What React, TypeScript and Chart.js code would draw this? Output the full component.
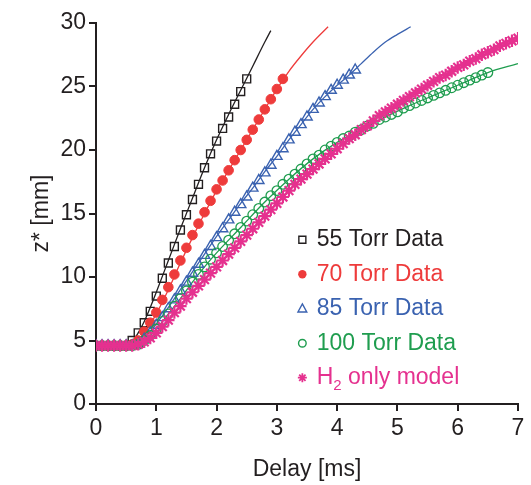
import React, { useEffect, useRef } from "react";
import { Chart, registerables } from "chart.js";
Chart.register(...registerables);

// Delay axis samples (ms)
const delayMs = [
  0.0, 0.1, 0.2, 0.3, 0.4, 0.5, 0.6, 0.7, 0.8, 0.9,
  1.0, 1.1, 1.2, 1.3, 1.4, 1.5, 1.6, 1.7, 1.8, 1.9,
  2.0, 2.1, 2.2, 2.3, 2.4, 2.5, 2.6, 2.7, 2.8, 2.9,
  3.0, 3.1, 3.2, 3.3, 3.4, 3.5, 3.6, 3.7, 3.8, 3.9,
  4.0, 4.1, 4.2, 4.3, 4.4, 4.5, 4.6, 4.7, 4.8, 4.9,
  5.0, 5.1, 5.2, 5.3, 5.4, 5.5, 5.6, 5.7, 5.8, 5.9,
  6.0, 6.1, 6.2, 6.3, 6.4, 6.5, 6.6, 6.7, 6.8, 6.9,
  7.0,
];

// Measured z* (mm), one value per delay sample
const torr55 = [
  4.6, 4.6, 4.6, 4.6, 4.6, 4.6, 5.0, 5.6, 6.4, 7.3,
  8.5, 9.9, 11.1, 12.4, 13.7, 14.9, 16.1, 17.3, 18.6, 19.7,
  20.7, 21.7, 22.6, 23.6, 24.6, 25.6,
];
const torr70 = [
  4.6, 4.6, 4.6, 4.6, 4.6, 4.6, 4.7, 5.0, 5.7, 6.4,
  7.2, 8.2, 9.2, 10.2, 11.3, 12.3, 13.3, 14.2, 15.1, 16.0,
  16.9, 17.6, 18.4, 19.2, 20.0, 20.8, 21.6, 22.4, 23.2, 24.0,
  24.8, 25.6,
];
const torr85 = [
  4.6, 4.6, 4.6, 4.6, 4.6, 4.6, 4.6, 4.7, 5.1, 5.6,
  6.2, 6.8, 7.5, 8.2, 8.9, 9.6, 10.3, 11.0, 11.7, 12.4,
  13.1, 13.8, 14.5, 15.1, 15.7, 16.3, 17.0, 17.6, 18.2, 18.8,
  19.5, 20.1, 20.8, 21.4, 22.0, 22.6, 23.2, 23.7, 24.2, 24.7,
  25.1, 25.5, 25.9, 26.3,
];
const torr100 = [
  4.6, 4.6, 4.6, 4.6, 4.6, 4.6, 4.6, 4.7, 5.0, 5.4,
  5.9, 6.5, 7.1, 7.7, 8.3, 8.9, 9.6, 10.2, 10.8, 11.4,
  11.9, 12.4, 12.9, 13.4, 13.9, 14.4, 14.9, 15.4, 15.9, 16.4,
  16.8, 17.3, 17.7, 18.1, 18.5, 18.9, 19.3, 19.6, 20.0, 20.3,
  20.6, 20.9, 21.1, 21.4, 21.6, 21.9, 22.1, 22.4, 22.6, 22.8,
  23.0, 23.3, 23.5, 23.7, 23.9, 24.1, 24.3, 24.5, 24.7, 24.9,
  25.1, 25.3, 25.5, 25.7, 25.9, 26.1,
];
const h2Model = [
  4.6, 4.6, 4.6, 4.6, 4.6, 4.6, 4.6, 4.7, 4.9, 5.2,
  5.6, 6.1, 6.6, 7.2, 7.7, 8.3, 8.8, 9.3, 9.8, 10.3,
  10.8, 11.3, 11.8, 12.3, 12.8, 13.3, 13.8, 14.3, 14.8, 15.3,
  15.8, 16.3, 16.8, 17.3, 17.7, 18.1, 18.5, 18.9, 19.3, 19.7,
  20.1, 20.5, 20.9, 21.2, 21.6, 21.9, 22.3, 22.7, 23.0, 23.3,
  23.6, 23.9, 24.2, 24.5, 24.8, 25.1, 25.4, 25.7, 25.9, 26.2,
  26.5, 26.7, 27.0, 27.2, 27.5, 27.7, 27.9, 28.2, 28.4, 28.6,
  28.8,
];

// Fitted curves
const fit55X = [0, 0.5, 0.6, 0.7, 0.8, 0.9, 1.0, 1.2, 1.4, 1.6, 1.8, 2.0, 2.2, 2.4, 2.6, 2.8, 2.9];
const fit55Y = [4.6, 4.6, 4.9, 5.6, 6.5, 7.6, 8.8, 11.3, 13.8, 16.2, 18.6, 20.8, 22.8, 24.7, 26.6, 28.5, 29.4];
const fit70X = [0, 0.5, 0.6, 0.7, 0.8, 0.9, 1.0, 1.2, 1.4, 1.6, 1.8, 2.0, 2.2, 2.4, 2.6, 2.8, 3.0, 3.2, 3.4, 3.6, 3.85];
const fit70Y = [4.6, 4.6, 4.7, 5.0, 5.6, 6.3, 7.1, 9.0, 11.1, 13.1, 15.0, 16.8, 18.4, 20.0, 21.6, 23.2, 24.8, 26.2, 27.4, 28.5, 29.7];
const fit85X = [0, 0.6, 0.7, 0.8, 1.0, 1.2, 1.4, 1.6, 1.8, 2.0, 2.2, 2.4, 2.6, 2.8, 3.0, 3.2, 3.4, 3.6, 3.8, 4.0, 4.2, 4.4, 4.6, 4.8, 5.0, 5.22];
const fit85Y = [4.6, 4.6, 4.8, 5.2, 6.3, 7.6, 9.0, 10.4, 11.8, 13.2, 14.5, 15.8, 17.0, 18.3, 19.5, 20.8, 22.0, 23.2, 24.2, 25.1, 25.9, 26.8, 27.7, 28.5, 29.1, 29.7];
const fit100X = [0, 0.6, 0.7, 0.8, 1.0, 1.2, 1.4, 1.6, 1.8, 2.0, 2.4, 2.8, 3.2, 3.6, 4.0, 4.4, 4.8, 5.2, 5.6, 6.0, 6.5, 7.0];
const fit100Y = [4.6, 4.6, 4.7, 5.0, 5.9, 7.1, 8.3, 9.6, 10.8, 11.9, 13.9, 15.9, 17.7, 19.3, 20.6, 21.6, 22.6, 23.5, 24.3, 25.1, 26.1, 26.8];

const xTicks = [0, 1, 2, 3, 4, 5, 6, 7];
const yTicks = [0, 5, 10, 15, 20, 25, 30];

const legendLabels = ["55 Torr Data", "70 Torr Data", "85 Torr Data", "100 Torr Data", "H|2| only model"];

const BLACK = "#231f20";
const RED = "#ee3b3b";
const BLUE = "#3a62b0";
const GREEN = "#1f9d4f";
const MAGENTA = "#e5318f";
const FONT = "'Liberation Sans', Arial, Helvetica, sans-serif";

const pts = (xs: number[], ys: number[]) => ys.map((y, i) => ({ x: xs[i], y }));

function drawMarker(ctx: CanvasRenderingContext2D, kind: string, x: number, y: number, color: string) {
  ctx.save();
  ctx.strokeStyle = color;
  ctx.fillStyle = color;
  ctx.lineWidth = 1.4;
  ctx.beginPath();
  if (kind === "rect") {
    ctx.rect(x - 3.5, y - 3.5, 7, 7);
    ctx.stroke();
  } else if (kind === "dot") {
    ctx.arc(x, y, 4.2, 0, Math.PI * 2);
    ctx.fill();
  } else if (kind === "tri") {
    ctx.moveTo(x, y - 4.8);
    ctx.lineTo(x + 4.4, y + 3.2);
    ctx.lineTo(x - 4.4, y + 3.2);
    ctx.closePath();
    ctx.stroke();
  } else if (kind === "circ") {
    ctx.arc(x, y, 3.8, 0, Math.PI * 2);
    ctx.stroke();
  } else {
    for (let k = 0; k < 4; k++) {
      const a = (k * Math.PI) / 4;
      ctx.moveTo(x - 4.5 * Math.cos(a), y - 4.5 * Math.sin(a));
      ctx.lineTo(x + 4.5 * Math.cos(a), y + 4.5 * Math.sin(a));
    }
    ctx.lineWidth = 1.8;
    ctx.stroke();
  }
  ctx.restore();
}

const legendPlugin = {
  id: "insideLegend",
  afterDraw(chart: any) {
    const { ctx, chartArea } = chart;
    const w = chartArea.right - chartArea.left;
    const h = chartArea.bottom - chartArea.top;
    const mx = chartArea.left + w * 0.489;
    const tx = chartArea.left + w * 0.523;
    const y0 = chartArea.top + h * 0.569;
    const dy = h * 0.0905;
    const kinds = ["rect", "dot", "tri", "circ", "star"];
    const colors = [BLACK, RED, BLUE, GREEN, MAGENTA];
    ctx.save();
    ctx.textBaseline = "middle";
    ctx.textAlign = "left";
    legendLabels.forEach((label, i) => {
      const y = y0 + dy * i;
      drawMarker(ctx, kinds[i], mx, y, colors[i]);
      ctx.fillStyle = colors[i];
      ctx.font = `23px ${FONT}`;
      const parts = label.split("|");
      if (parts.length === 3) {
        ctx.fillText(parts[0], tx, y);
        let x = tx + ctx.measureText(parts[0]).width;
        ctx.font = `15px ${FONT}`;
        ctx.fillText(parts[1], x, y + 8);
        x += ctx.measureText(parts[1]).width;
        ctx.font = `23px ${FONT}`;
        ctx.fillText(parts[2], x, y);
      } else {
        ctx.fillText(label, tx, y);
      }
    });
    ctx.restore();
  },
};

export default function App() {
  const ref = useRef<HTMLCanvasElement>(null);
  useEffect(() => {
    if (!ref.current) return;
    const marker = (color: string, style: string, r: number, fill: boolean, order: number, bw: number) => ({
      showLine: false,
      pointStyle: style,
      pointRadius: r,
      pointBorderColor: color,
      pointBackgroundColor: fill ? color : "rgba(0,0,0,0)",
      pointBorderWidth: bw,
      borderColor: color,
      backgroundColor: color,
      order,
    });
    const line = (color: string, order: number) => ({
      showLine: true,
      pointRadius: 0,
      borderColor: color,
      borderWidth: 1.3,
      cubicInterpolationMode: "monotone" as const,
      order,
    });
    const chart = new Chart(ref.current, {
      type: "scatter",
      data: {
        datasets: [
          { label: "H2 only model", data: pts(delayMs, h2Model), ...marker(MAGENTA, "star", 6.2, false, 0, 2.2) },
          { label: "100 Torr Data", data: pts(delayMs, torr100), ...marker(GREEN, "circle", 4.8, false, 1, 1.3) },
          { label: "85 Torr Data", data: pts(delayMs, torr85), ...marker(BLUE, "triangle", 6, false, 2, 1.4) },
          { label: "70 Torr Data", data: pts(delayMs, torr70), ...marker(RED, "circle", 4.8, true, 3, 1) },
          { label: "55 Torr Data", data: pts(delayMs, torr55), ...marker(BLACK, "rect", 5.6, false, 4, 1.4) },
          { label: "fit100", data: pts(fit100X, fit100Y), ...line(GREEN, 5) },
          { label: "fit85", data: pts(fit85X, fit85Y), ...line(BLUE, 6) },
          { label: "fit70", data: pts(fit70X, fit70Y), ...line(RED, 7) },
          { label: "fit55", data: pts(fit55X, fit55Y), ...line(BLACK, 8) },
        ],
      },
      options: {
        animation: false,
        responsive: false,
        maintainAspectRatio: false,
        layout: { padding: { top: 23, right: 13, left: 0, bottom: 0 } },
        plugins: { legend: { display: false }, tooltip: { enabled: false } },
        scales: {
          x: {
            type: "linear",
            min: 0,
            max: 7,
            afterBuildTicks: (s: any) => { s.ticks = xTicks.map((v) => ({ value: v })); },
            afterFit: (s: any) => { s.height = 81; },
            ticks: { color: BLACK, font: { size: 23, family: FONT }, padding: 4, maxRotation: 0 },
            grid: { drawOnChartArea: false, drawTicks: true, tickLength: 7, color: BLACK, lineWidth: 2 },
            border: { display: true, color: BLACK, width: 2 },
            title: { display: true, text: "Delay [ms]", color: BLACK, font: { size: 23, family: FONT }, padding: { top: 6, bottom: 2 } },
          },
          y: {
            type: "linear",
            min: 0,
            max: 30,
            afterBuildTicks: (s: any) => { s.ticks = yTicks.map((v) => ({ value: v })); },
            afterFit: (s: any) => { s.width = 96; },
            ticks: { color: BLACK, font: { size: 23, family: FONT }, padding: 3 },
            grid: { drawOnChartArea: false, drawTicks: true, tickLength: 7, color: BLACK, lineWidth: 2 },
            border: { display: true, color: BLACK, width: 2 },
            title: { display: true, text: "z* [mm]", color: BLACK, font: { size: 23, family: FONT }, padding: { top: 28, bottom: 0 } },
          },
        },
      },
      plugins: [legendPlugin],
    });
    return () => chart.destroy();
  }, []);
  return (
    <div style={{ position: "absolute", left: 0, top: 0, width: 531, height: 485, background: "#fff" }}>
      <canvas ref={ref} width={531} height={485} style={{ display: "block" }} />
    </div>
  );
}
